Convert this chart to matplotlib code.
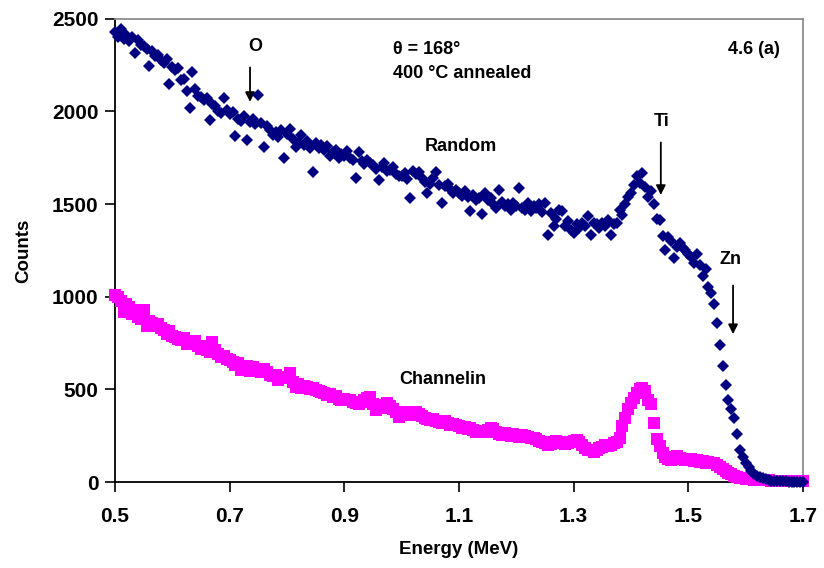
import numpy as np
import matplotlib
matplotlib.use("Agg")
import matplotlib.pyplot as plt

plt.rcParams['font.family'] = ['Liberation Sans', 'DejaVu Sans']
plt.rcParams['font.weight'] = 'bold'

# Energy channels (MeV), 5 keV step
energy = np.round(np.arange(0.5, 1.7001, 0.005), 3)

random_counts = [
    2430, 2400, 2445, 2390, 2410, 2380, 2400, 2315, 2385, 2360,
    2350, 2335, 2245, 2325, 2300, 2305, 2275, 2260, 2285, 2150,
    2240, 2225, 2235, 2170, 2175, 2110, 2020, 2215, 2120, 2085,
    2080, 2060, 2070, 1955, 2040, 2030, 2000, 1990, 2070, 2010,
    1985, 1995, 1865, 1960, 1950, 1975, 1845, 1940, 1960, 1930,
    2090, 1935, 1810, 1920, 1900, 1875, 1890, 1860, 1900, 1750,
    1880, 1905, 1850, 1810, 1830, 1870, 1820, 1840, 1800, 1675,
    1830, 1800, 1820, 1790, 1815, 1760, 1780, 1790, 1750, 1770,
    1760, 1785, 1750, 1740, 1640, 1780, 1730, 1715, 1740, 1720,
    1710, 1690, 1630, 1700, 1720, 1680, 1685, 1700, 1660, 1650,
    1650, 1670, 1635, 1532, 1680, 1660, 1675, 1640, 1620, 1560,
    1610, 1640, 1675, 1600, 1505, 1595, 1610, 1580, 1560, 1575,
    1560, 1545, 1570, 1540, 1460, 1550, 1520, 1530, 1445, 1560,
    1520, 1535, 1500, 1480, 1575, 1510, 1490, 1500, 1470, 1505,
    1490, 1585, 1480, 1470, 1505, 1460, 1490, 1480, 1500, 1455,
    1505, 1334, 1450, 1380, 1420, 1470, 1465, 1380, 1410, 1360,
    1345, 1390, 1370, 1400, 1380, 1435, 1335, 1400, 1390, 1370,
    1400, 1380, 1415, 1335, 1390, 1400, 1470, 1440, 1500, 1540,
    1560, 1600, 1650, 1615, 1670, 1590, 1540, 1570, 1500, 1420,
    1415, 1330, 1250, 1320, 1300, 1210, 1270, 1290, 1265, 1250,
    1230, 1215, 1180, 1230, 1172, 1110, 1150, 1050, 1020, 960,
    860, 740, 625, 525, 445, 395, 345, 260, 175, 135,
    105, 80, 58, 45, 35, 28, 20, 15, 12, 8,
    6, 5, 4, 3, 3, 2, 2, 2, 1, 1,
    1,
]

channel_counts = [
    1010, 1000, 975, 915, 960, 945, 905, 930, 890, 880,
    929, 840, 870, 860, 840, 855, 830, 820, 800, 815,
    790, 780, 770, 765, 775, 745, 755, 750, 760, 735,
    720, 735, 713, 700, 758, 710, 690, 677, 680, 665,
    659, 650, 630, 640, 605, 615, 625, 600, 623, 610,
    600, 595, 610, 596, 580, 570, 575, 551, 560, 565,
    569, 587, 540, 515, 530, 506, 520, 510, 500, 505,
    495, 490, 488, 480, 470, 475, 460, 465, 450, 443,
    450, 440, 445, 430, 425, 420, 430, 440, 455, 461,
    420, 389, 410, 400, 415, 425, 410, 395, 380, 353,
    365, 375, 380, 360, 370, 380, 365, 355, 345, 340,
    335, 340, 330, 325, 320, 330, 317, 310, 315, 305,
    300, 290, 295, 285, 290, 280, 272, 275, 270, 272,
    280, 290, 285, 270, 260, 254, 265, 255, 250, 260,
    250, 245, 255, 248, 245, 240, 235, 230, 220, 215,
    210, 200, 205, 215, 220, 215, 209, 205, 210, 215,
    220, 227, 215, 200, 185, 175, 170, 164, 175, 185,
    190, 200, 195, 200, 210, 215, 240, 300, 345, 395,
    425, 455, 480, 500, 505, 490, 440, 420, 320, 230,
    195, 155, 135, 125, 120, 125, 140, 130, 125, 120,
    120, 125, 115, 120, 110, 115, 105, 110, 105, 100,
    90, 80, 70, 60, 50, 42, 35, 28, 24, 20,
    18, 16, 14, 12, 11, 10, 10, 9, 9, 8,
    8, 7, 7, 6, 6, 6, 5, 5, 5, 5,
    5,
]

x_ticks = [0.5, 0.7, 0.9, 1.1, 1.3, 1.5, 1.7]
y_ticks = [0, 500, 1000, 1500, 2000, 2500]

fig = plt.figure(figsize=(8.24, 5.68), dpi=100)
ax = fig.add_axes([115/824, 1-482/568, (803-115)/824, (482-18.7)/568])

ax.plot(energy, channel_counts, linestyle='none', marker='s', markersize=8.3,
        color='#FF00FF', markeredgewidth=0, clip_on=False, zorder=3)
ax.plot(energy, random_counts, linestyle='none', marker='D', markersize=6.6,
        color='#000080', markeredgewidth=0, clip_on=False, zorder=4)

ax.set_xlim(0.5, 1.7)
ax.set_ylim(0, 2500)
ax.set_xticks(x_ticks)
ax.set_xticklabels([f"{v:.1f}" for v in x_ticks])
ax.set_yticks(y_ticks)
ax.tick_params(direction='out', length=7, width=1.2, labelsize=15)
ax.tick_params(axis='x', pad=11)
ax.tick_params(axis='y', pad=5)
for lab in ax.get_xticklabels() + ax.get_yticklabels():
    lab.set_fontweight('bold')

for s in ['left', 'bottom']:
    ax.spines[s].set_color('black')
    ax.spines[s].set_linewidth(1.3)
for s in ['top', 'right']:
    ax.spines[s].set_color('#8c8c8c')
    ax.spines[s].set_linewidth(1.3)

ax.set_xlabel('Energy (MeV)', fontsize=13.5, fontweight='bold', labelpad=11)
ax.set_ylabel('Counts', fontsize=13.5, fontweight='bold', labelpad=14)

tkw = dict(fontsize=13, fontweight='bold', color='black')
ax.text(0.744, 2349, 'O', ha='center', va='center', **tkw)
ax.annotate('', xy=(0.7355, 2036), xytext=(0.7355, 2252),
            arrowprops=dict(arrowstyle='-|>', color='black', lw=1.3, mutation_scale=14))
ax.text(1.454, 1944, 'Ti', ha='center', va='center', **tkw)
ax.annotate('', xy=(1.452, 1534), xytext=(1.452, 1847),
            arrowprops=dict(arrowstyle='-|>', color='black', lw=1.3, mutation_scale=14))
ax.text(1.574, 1199, 'Zn', ha='center', va='center', **tkw)
ax.annotate('', xy=(1.578, 783), xytext=(1.578, 1075),
            arrowprops=dict(arrowstyle='-|>', color='black', lw=1.3, mutation_scale=14))
ax.text(1.104, 1809, 'Random', ha='center', va='center', **tkw)
ax.text(1.072, 551, 'Channelin', ha='center', va='center', **tkw)

fig.text(393/824, 1-50/568, 'θ = 168°', ha='left', va='center', **tkw)
fig.text(393/824, 1-73/568, '400 °C annealed', ha='left', va='center', **tkw)
fig.text(780/824, 1-50/568, '4.6 (a)', ha='right', va='center', **tkw)

fig.savefig('out.png', dpi=100)
